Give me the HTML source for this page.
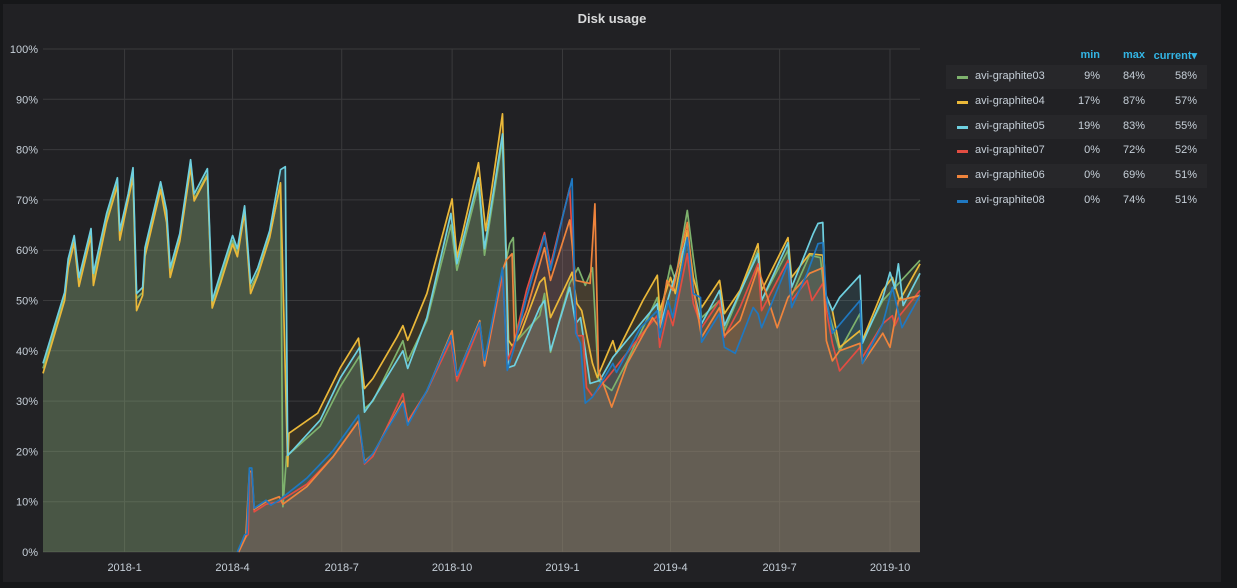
<!DOCTYPE html>
<html><head><meta charset="utf-8">
<style>
html,body{margin:0;padding:0;background:#161719;width:1237px;height:588px;overflow:hidden;font-family:"Liberation Sans",sans-serif;}
#panel{position:absolute;left:3px;top:4px;width:1218px;height:578px;background:#212124;}
#title{position:absolute;left:0;top:7px;width:1218px;text-align:center;color:#d8d9da;font-size:13px;font-weight:bold;}
svg{position:absolute;left:0;top:0;}
.hd{position:absolute;font-size:11px;color:#33b5e5;font-weight:bold;top:45px;text-align:right;}
.row{position:absolute;left:943px;width:261px;height:24px;}
.row.odd{background:#27272a;}
.sw{position:absolute;left:11px;top:11px;width:11px;height:3px;}
.nm{position:absolute;left:29px;top:5px;font-size:11px;color:#c7d0d9;}
.v{position:absolute;top:5px;font-size:11px;color:#c7d0d9;text-align:right;width:40px;}
</style></head><body>
<div id="panel">
<div id="title">Disk usage</div>
<div class="hd" style="left:1057px;width:40px">min</div>
<div class="hd" style="left:1102px;width:40px">max</div>
<div class="hd" style="left:1134px;width:60px">current▾</div>
<div id="legend"></div>
</div>
<svg id="chart" width="1237" height="588"></svg>
<script>
const seriesNames=["avi-graphite03","avi-graphite04","avi-graphite05","avi-graphite07","avi-graphite06","avi-graphite08"];
const seriesColors=["#7eb26d","#eab839","#6ed0e0","#e24d42","#ef843c","#1f78c1"];
const legendMin=["9%","17%","19%","0%","0%","0%"];
const legendMax=["84%","87%","83%","72%","69%","74%"];
const legendCurrent=["58%","57%","55%","52%","51%","51%"];
const yTicks=[0,10,20,30,40,50,60,70,80,90,100];
const xTickDates=["2018-01-01","2018-04-01","2018-07-01","2018-10-01","2019-01-01","2019-04-01","2019-07-01","2019-10-01"];
const xTickLabels=["2018-1","2018-4","2018-7","2018-10","2019-1","2019-4","2019-7","2019-10"];
const startDate="2017-10-25";
const dayRange=[0,731];
// [day offset from start, percent]
const s03=[[0,36.5],[18,50.6],[21,57.3],[26,61.9],[30,53.6],[40,63.3],[42,54.4],[53,66.3],[62,73.4],[64,62.9],[71,70.2],[75,75.4],[78,50.4],[83,51.6],[85,59.5],[98,72.6],[103,66.9],[106,55.5],[114,62.3],[123,77],[126,70.2],[137,75.2],[141,49],[148,54.4],[158,61.9],[162,59.3],[168,67.8],[173,52.4],[179,55.5],[189,62.9],[198,73],[200,9],[203,19],[231,25],[248,33],[264,39],[268,28.5],[275,30],[300,42],[304,38],[320,46],[340,65],[345,56],[363,73],[368,59],[383,82],[386,58],[389,61.3],[392,62.5],[395,42],[414,47],[418,51.4],[423,39.7],[439,53.4],[446,56.5],[452,53],[458,56.5],[463,34.1],[474,32.1],[487,38],[512,50.6],[514,46.6],[523,57],[527,54],[537,67.9],[542,58.5],[549,46.6],[564,50],[568,44],[596,60],[599,50],[621,60],[624,51],[639,59],[648,58.5],[652,50],[664,40],[681,47.4],[683,42],[700,50],[731,58]];
const s04=[[0,35.5],[18,50],[21,56.5],[26,61.5],[30,52.8],[40,62.8],[42,53],[53,65.5],[62,72.8],[64,62],[71,70],[75,74.5],[78,48],[83,51],[85,58.8],[98,72],[103,65.5],[106,54.6],[114,61.8],[123,76.5],[126,69.8],[137,74.8],[141,48.5],[148,53.5],[158,61.2],[162,58.7],[168,67.5],[173,51.4],[179,55],[189,62.5],[198,73.4],[204,17],[205,23.6],[229,27.6],[248,36.7],[263,42.5],[268,32.5],[275,34.5],[295,42.7],[300,45],[304,42.1],[320,51.4],[341,70.2],[345,58.5],[363,77.4],[369,63.9],[383,87.1],[388,42.1],[391,41],[398,43.4],[414,53.6],[418,54.6],[423,46.6],[441,55.6],[445,49.4],[449,48],[458,37.5],[462,34.7],[475,42],[478,39.5],[500,50],[512,55],[514,48],[523,54.6],[527,51.4],[537,63.9],[542,54.6],[549,48.6],[564,54],[568,47.4],[581,52],[596,61.3],[599,52],[621,62.5],[624,54.6],[639,59.3],[650,59],[652,51.4],[658,48],[664,40.7],[681,44],[683,42.1],[700,52],[708,54.6],[714,50],[731,57.3]];
const s05=[[0,37.5],[18,51.6],[21,58.3],[26,62.9],[30,54.6],[40,64.3],[42,55.4],[53,67.3],[62,74.4],[64,63.9],[71,71.2],[75,76.4],[78,51.4],[83,52.6],[85,60.5],[98,73.6],[103,67.9],[106,56.5],[114,63.3],[123,78],[126,71.2],[137,76.2],[141,50],[148,55.4],[158,62.9],[162,60.3],[168,68.8],[173,53.4],[179,56.5],[189,63.9],[198,76],[202,76.6],[204,19.2],[208,20.2],[231,26.2],[248,34.7],[264,40.7],[268,27.8],[275,30.2],[300,40],[304,36.5],[320,46.6],[340,67.3],[345,57.3],[363,74.4],[368,60.3],[383,83.1],[386,58.5],[388,36.7],[393,37.1],[414,48.6],[418,50],[423,40],[439,52.6],[444,45.4],[448,46.6],[456,33.5],[464,34.1],[475,38.7],[512,49.4],[514,44.6],[523,52],[537,62.5],[542,52],[549,45.4],[564,52],[568,45],[596,59.3],[599,50],[621,61.5],[624,52.6],[642,63.3],[646,65.3],[650,65.5],[652,51.4],[658,48],[664,50.6],[681,55],[683,41.5],[700,50.6],[706,55.6],[710,52.4],[713,57.3],[717,49],[731,55.4]];
const s07=[[163,0],[169,3],[171,3.5],[172,16],[174,16],[176,8],[186,9.5],[197,10],[200,10.5],[220,13.5],[242,19],[263,26],[268,17.5],[275,19],[295,29],[300,31.5],[304,26],[320,32],[340,42],[345,34],[364,45],[368,37],[383,55],[387,38],[392,41],[403,52],[418,63.5],[423,57],[439,72.4],[445,43],[450,43],[453,32.7],[458,31],[475,36],[498,43],[512,47],[514,40.7],[521,48],[525,45],[537,59.3],[542,49.4],[549,44.6],[564,50],[568,42.7],[581,48.6],[596,57.3],[599,48],[621,58],[624,50],[637,54],[641,50],[650,53.4],[653,48],[658,41.5],[664,36],[681,40.7],[683,38.7],[700,45.4],[708,47],[710,45],[714,47],[731,52]];
const s06=[[163,0],[169,3],[172,16],[174,16],[176,8.5],[186,10],[197,11],[200,9.5],[220,13],[242,19],[263,26],[268,18],[275,19.5],[300,30],[304,25.5],[320,32],[341,44],[345,35],[364,46],[368,37],[383,56],[386,58],[391,59.3],[393,42],[403,48],[418,60.5],[423,54],[439,66],[444,54],[456,53.4],[460,69.2],[463,36.1],[474,28.8],[487,37.5],[508,46.6],[514,44.6],[520,54],[525,52],[537,65.5],[542,52.6],[549,42.7],[564,48.6],[568,43],[581,46],[596,56.5],[612,44.6],[621,50.6],[639,55.4],[650,56.5],[653,42],[658,38],[664,40],[681,41.5],[683,37.5],[700,43.5],[706,40.7],[713,50],[731,51]];
const s08=[[162,0],[168,3.4],[170,3.6],[172,16.7],[174,16.7],[176,8.7],[186,10.3],[190,9.3],[197,10.3],[200,10.9],[220,14.7],[242,20.2],[263,27.2],[268,17.7],[275,19.6],[300,29.6],[304,25.2],[320,32.1],[340,43],[345,35.1],[364,45.6],[368,38.1],[383,56.5],[387,36.1],[392,40],[403,50.6],[418,62.9],[423,56],[433,66.5],[441,74.2],[444,43.5],[448,41.5],[452,29.6],[458,30.8],[475,37.5],[478,35.7],[498,44.6],[512,48],[514,42.7],[521,50],[525,46.6],[537,62.5],[542,51.4],[548,50.6],[549,41.7],[564,47.4],[568,40.7],[577,39.5],[592,48.6],[596,47.4],[599,44.6],[621,57.3],[624,48.6],[637,55.4],[646,61.3],[650,61.5],[653,50.6],[658,43.5],[681,50],[683,37.5],[700,45.4],[708,52.6],[716,44.6],[731,51]];
const allSeries=[s03,s04,s05,s07,s06,s08];

const NS="http://www.w3.org/2000/svg";
const svg=document.getElementById('chart');
const PL=43,PR=920,PT=49,PB=552;
function xs(d){return PL+(d-dayRange[0])/(dayRange[1]-dayRange[0])*(PR-PL);}
function ys(v){return PB-v/100*(PB-PT);}
function mk(tag,attrs){const e=document.createElementNS(NS,tag);for(const k in attrs)e.setAttribute(k,attrs[k]);svg.appendChild(e);return e;}
const t0=new Date(startDate+"T00:00:00Z").getTime();
yTicks.forEach(v=>{
  const l=mk('line',{x1:PL,x2:PR,y1:ys(v),y2:ys(v),stroke:'#3a3a3c','stroke-width':1});
  
  
  const t=mk('text',{x:38,y:ys(v)+4,'text-anchor':'end',fill:'#c7d0d9','font-size':11,'font-family':'Liberation Sans, sans-serif'});
  t.textContent=v+'%';
  
  
});
xTickDates.forEach((ds,i)=>{
  const d=(new Date(ds+"T00:00:00Z").getTime()-t0)/86400000;
  const l=mk('line',{x1:xs(d),x2:xs(d),y1:PT,y2:PB,stroke:'#3a3a3c','stroke-width':1});
  
  
  const t=mk('text',{x:xs(d),y:571,'text-anchor':'middle',fill:'#c7d0d9','font-size':11,'font-family':'Liberation Sans, sans-serif'});
  t.textContent=xTickLabels[i];
  
  
});
allSeries.forEach((s,i)=>{
  let p=s.map((pt,j)=>(j?'L':'M')+xs(pt[0]).toFixed(1)+','+ys(pt[1]).toFixed(1)).join('');
  let last=s[s.length-1];
  const area=mk('path',{d:p+'L'+xs(last[0])+','+PB+'L'+xs(s[0][0])+','+PB+'Z',fill:seriesColors[i],'fill-opacity':0.13,stroke:'none'});
  
  
});
allSeries.forEach((s,i)=>{
  let p=s.map((pt,j)=>(j?'L':'M')+xs(pt[0]).toFixed(1)+','+ys(pt[1]).toFixed(1)).join('');
  const line=mk('path',{d:p,fill:'none',stroke:seriesColors[i],'stroke-width':1.7,'stroke-linejoin':'round'});
  
  
});
const lg=document.getElementById('legend');
seriesNames.forEach((n,i)=>{
  const r=document.createElement('div');
  r.className='row'+(i%2==0?' odd':'');
  r.style.top=(61+i*24.8)+'px';
  
  
  r.innerHTML='<div class="sw" style="background:'+seriesColors[i]+'"></div><div class="nm">'+n+'</div>'+
   '<div class="v" style="left:114px">'+legendMin[i]+'</div><div class="v" style="left:159px">'+legendMax[i]+'</div><div class="v" style="left:211px">'+legendCurrent[i]+'</div>';
  lg.appendChild(r);
});
</script>
</body></html>
